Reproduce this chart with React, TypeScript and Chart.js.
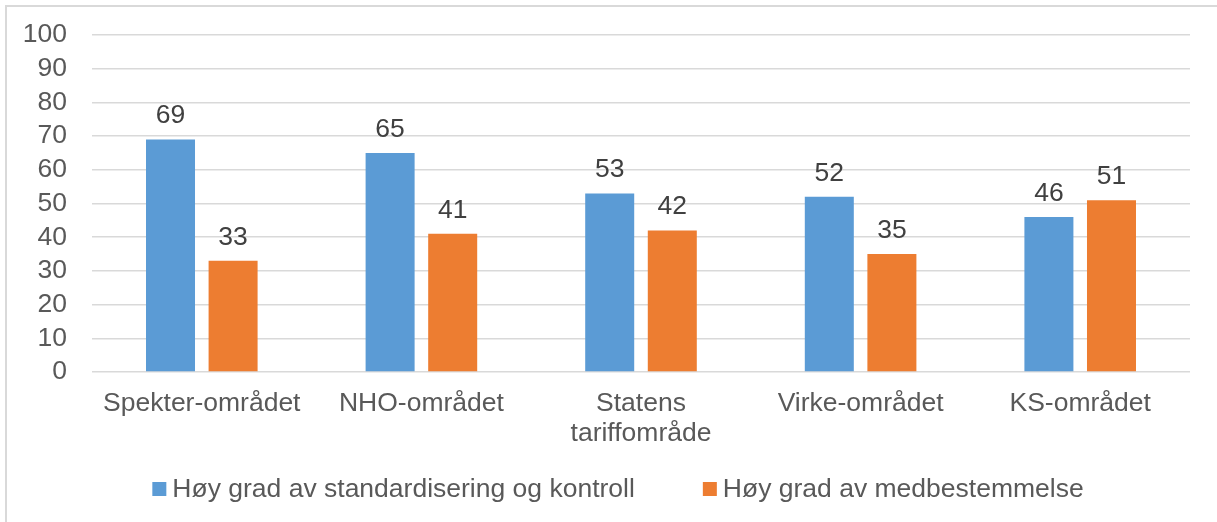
import React, { useEffect, useRef } from 'react';
import { Chart, registerables } from 'chart.js';

Chart.register(...registerables);

const categories: (string | string[])[] = [
  'Spekter-området',
  'NHO-området',
  ['Statens', 'tariffområde'],
  'Virke-området',
  'KS-området',
];
const seriesNames = [
  'Høy grad av standardisering og kontroll',
  'Høy grad av medbestemmelse',
];
const standardisering = [69, 65, 53, 52, 46];
const medbestemmelse = [33, 41, 42, 35, 51];
const yMin = 0;
const yMax = 100;
const yStep = 10;

const FONT = '"Liberation Sans", Arial, Helvetica, sans-serif';
const FS = 26.5;
const BLUE = '#5B9BD5';
const ORANGE = '#ED7D31';
const AXIS_TEXT = '#595959';
const LABEL_TEXT = '#404040';
const GRID = '#d9d9d9';

const framePlugin = {
  id: 'frame',
  beforeDraw(chart: any) {
    const { ctx, width, height } = chart;
    ctx.save();
    ctx.fillStyle = '#ffffff';
    ctx.fillRect(0, 0, width, height);
    ctx.strokeStyle = GRID;
    ctx.lineWidth = 2;
    ctx.beginPath();
    ctx.moveTo(6, height);
    ctx.lineTo(6, 6);
    ctx.lineTo(width, 6);
    ctx.stroke();
    ctx.restore();
  },
};

const valueLabelPlugin = {
  id: 'valueLabels',
  afterDatasetsDraw(chart: any) {
    const { ctx } = chart;
    ctx.save();
    ctx.font = `${FS}px ${FONT}`;
    ctx.fillStyle = LABEL_TEXT;
    ctx.textAlign = 'center';
    ctx.textBaseline = 'alphabetic';
    chart.data.datasets.forEach((ds: any, i: number) => {
      const meta = chart.getDatasetMeta(i);
      meta.data.forEach((el: any, j: number) => {
        ctx.fillText(String(ds.data[j]), el.x, el.y - 16);
      });
    });
    ctx.restore();
  },
};

const legendPlugin = {
  id: 'customLegend',
  afterDraw(chart: any) {
    const { ctx } = chart;
    ctx.save();
    ctx.font = `${FS}px ${FONT}`;
    const box = 14;
    const gapText = 6;
    const gapItem = 68;
    const widths = chart.data.datasets.map((ds: any) => ctx.measureText(ds.label).width);
    let total = 0;
    widths.forEach((w: number, i: number) => {
      total += box + gapText + w + (i < widths.length - 1 ? gapItem : 0);
    });
    const cx = 618;
    const cy = 489;
    let x = cx - total / 2;
    chart.data.datasets.forEach((ds: any, i: number) => {
      ctx.fillStyle = ds.backgroundColor;
      ctx.fillRect(x, cy - box / 2, box, box);
      x += box + gapText;
      ctx.fillStyle = AXIS_TEXT;
      ctx.textAlign = 'left';
      ctx.textBaseline = 'middle';
      ctx.fillText(ds.label, x, cy + 1);
      x += widths[i] + gapItem;
    });
    ctx.restore();
  },
};

export default function App() {
  const canvasRef = useRef<HTMLCanvasElement | null>(null);

  useEffect(() => {
    const canvas = canvasRef.current;
    if (!canvas) return;
    const chart = new Chart(canvas, {
      type: 'bar',
      data: {
        labels: categories as any,
        datasets: [
          {
            label: seriesNames[0],
            data: standardisering,
            backgroundColor: BLUE,
            categoryPercentage: 0.57,
            barPercentage: 0.783,
          },
          {
            label: seriesNames[1],
            data: medbestemmelse,
            backgroundColor: ORANGE,
            categoryPercentage: 0.57,
            barPercentage: 0.783,
          },
        ],
      },
      options: {
        animation: false,
        responsive: false,
        maintainAspectRatio: false,
        layout: { padding: { left: 0, right: 27, top: 35, bottom: 73 } },
        plugins: {
          legend: { display: false },
          tooltip: { enabled: false },
          title: { display: false },
        },
        scales: {
          x: {
            grid: { display: false, drawTicks: false },
            border: { display: false },
            ticks: {
              color: AXIS_TEXT,
              font: { family: FONT, size: FS, lineHeight: 1.13 },
              padding: 17,
              maxRotation: 0,
              autoSkip: false,
            },
            afterFit(scale: any) {
              scale.height = 77;
              scale.paddingLeft = 0;
              scale.paddingRight = 0;
            },
          },
          y: {
            min: yMin,
            max: yMax,
            grid: { color: GRID, lineWidth: 1.5, drawTicks: false },
            border: { display: false },
            ticks: {
              stepSize: yStep,
              autoSkip: false,
              color: AXIS_TEXT,
              font: { family: FONT, size: FS },
              padding: 25,
            },
            afterFit(scale: any) {
              scale.width = 92;
              scale.paddingTop = 0;
              scale.paddingBottom = 0;
            },
          },
        },
      },
      plugins: [framePlugin, valueLabelPlugin, legendPlugin],
    });
    return () => chart.destroy();
  }, []);

  return (
    <div style={{ position: 'fixed', left: 0, top: 0, width: 1217, height: 522 }}>
      <canvas ref={canvasRef} width={1217} height={522} style={{ display: 'block' }} />
    </div>
  );
}
